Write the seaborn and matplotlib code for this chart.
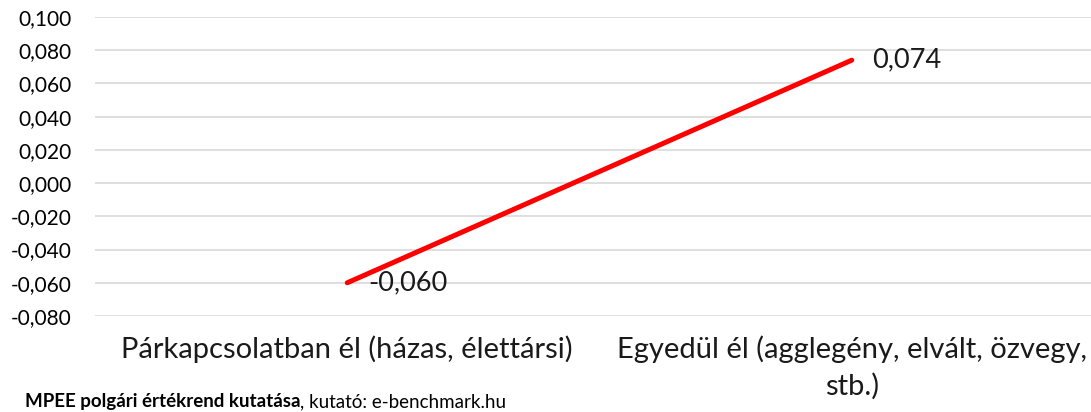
import matplotlib
matplotlib.use('Agg')
from matplotlib import pyplot as plt
import seaborn as sns

# data
categories = ['Párkapcsolatban él (házas, élettársi)',
              'Egyedül él (agglegény, elvált, özvegy,\nstb.)']
values = [-0.060, 0.074]
y_ticks = [-0.08, -0.06, -0.04, -0.02, 0.0, 0.02, 0.04, 0.06, 0.08, 0.10]
source_bold = 'MPEE polgári értékrend kutatása'
source_rest = ', kutató: e-benchmark.hu'

sns.set_style('white')
plt.rcParams['font.family'] = ['Lato', 'DejaVu Sans']

fig = plt.figure(figsize=(10.91, 4.12), dpi=100)
ax = fig.add_axes([95 / 1091, 96 / 412, 1009 / 1091, 299 / 412])

sns.lineplot(x=[0, 1], y=values, color='#ff0000', linewidth=3.6,
             solid_capstyle='round', ax=ax, zorder=3)

ax.set_xlim(-0.5, 1.5)
ax.set_ylim(-0.08, 0.10)
ax.set_yticks(y_ticks)
ax.set_yticklabels([f'{v:.3f}'.replace('.', ',') for v in y_ticks],
                   fontsize=15, color='#000000')
ax.set_xticks([0, 1])
ax.set_xticklabels(categories, fontsize=21, color='#1a1a1a',
                   multialignment='center', linespacing=1.45)
ax.tick_params(axis='y', length=0, pad=17)
ax.tick_params(axis='x', length=0, pad=14)
ax.grid(axis='y', color='#d9d9d9', linewidth=1.2)
ax.set_axisbelow(True)
for s in ax.spines.values():
    s.set_visible(False)
ax.set_xlabel('')
ax.set_ylabel('')

# data labels
for i, v in enumerate(values):
    ax.annotate(f'{v:.3f}'.replace('.', ','), (i, v), xytext=(15, 0),
                textcoords='offset points', ha='left', va='center',
                fontsize=19.5, color='#1a1a1a')

# source note
t1 = fig.text(25 / 1091, 5 / 412, source_bold, fontsize=13.5,
              fontweight='bold', color='#000000', ha='left', va='baseline')
fig.canvas.draw()
bb = t1.get_window_extent(renderer=fig.canvas.get_renderer())
fig.text(bb.x1 / fig.bbox.width, 5 / 412, source_rest, fontsize=13.5,
         color='#000000', ha='left', va='baseline')

fig.savefig('out.png', dpi=100)
